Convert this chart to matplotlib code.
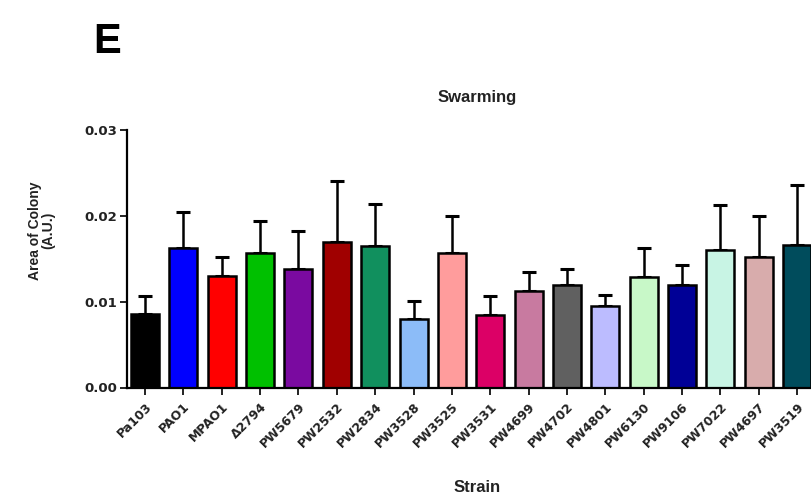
import matplotlib
matplotlib.use("Agg")
import matplotlib.pyplot as plt
import numpy as np

plt.rcParams['font.family'] = ['Liberation Sans', 'DejaVu Sans']

strains = ["Pa103", "PAO1", "MPAO1", "Δ2794", "PW5679", "PW2532", "PW2834",
           "PW3528", "PW3525", "PW3531", "PW4699", "PW4702", "PW4801",
           "PW6130", "PW9106", "PW7022", "PW4697", "PW3519"]
means = [0.0086, 0.0163, 0.0130, 0.0157, 0.0138, 0.0170, 0.0165,
         0.0080, 0.0157, 0.0085, 0.0113, 0.0119, 0.0095,
         0.0129, 0.0120, 0.0160, 0.0152, 0.0166]
errors = [0.0021, 0.0042, 0.0022, 0.0037, 0.0044, 0.0070, 0.0049,
          0.0021, 0.0043, 0.0022, 0.0021, 0.0019, 0.0013,
          0.0033, 0.0023, 0.0053, 0.0048, 0.0070]
colors = ["#000000", "#0000ff", "#ff0000", "#00c000", "#7a0aa0", "#a00000",
          "#11905e", "#8cbcf8", "#ff9c9c", "#dc0066", "#c87aa0", "#606060",
          "#bcbcff", "#c8f8c8", "#000096", "#c8f4e4", "#d8acac", "#004c5c"]

fig = plt.figure(figsize=(8.11, 4.99), dpi=100)
# axes runs a little past the right edge, like the cropped original
ax = fig.add_axes([127 / 811, 111.5 / 499, 700 / 811, 257.5 / 499])

x = np.arange(len(strains))
ax.bar(x, means, width=0.73, color=colors, edgecolor="black", linewidth=1.8,
       zorder=2)
ax.errorbar(x, means, yerr=[np.zeros(len(errors)), errors], fmt="none",
            ecolor="black", elinewidth=1.8, capsize=5, capthick=2.2, zorder=1)

tick_font = dict(family=["DejaVu Sans"], weight="bold")
ax.set_xlim(-0.47, 17.78)
ax.set_ylim(0, 0.03)
ax.set_yticks([0.00, 0.01, 0.02, 0.03])
ax.set_yticklabels(["0.00", "0.01", "0.02", "0.03"], fontsize=9.5,
                   **tick_font)
ax.set_xticks(x)
ax.set_xticklabels(strains, rotation=45, ha="right", rotation_mode="anchor",
                   fontsize=9, **tick_font)

for s in ["top", "right"]:
    ax.spines[s].set_visible(False)
for s in ["left", "bottom"]:
    ax.spines[s].set_linewidth(1.6)
ax.tick_params(axis="both", direction="out", width=1.4, length=5,
               colors="#222222")
ax.tick_params(axis="x", pad=4)
ax.tick_params(axis="y", pad=2)

ax.set_ylabel("Area of Colony\n(A.U.)", fontsize=10, linespacing=1.0,
              fontweight="bold", color="#222222")
ax.yaxis.set_label_coords(-0.102, 0.61)
ax.set_xlabel("Strain", fontsize=12, fontweight="bold", color="#222222")
ax.xaxis.set_label_coords(0.5, -0.36)
ax.set_title("Swarming", fontsize=12, pad=20, fontweight="bold",
             color="#222222")

fig.text(93 / 811, 1 - 53 / 499, "E", fontsize=30, fontweight="bold",
         ha="left", va="baseline")

fig.savefig("out.png", dpi=100)
